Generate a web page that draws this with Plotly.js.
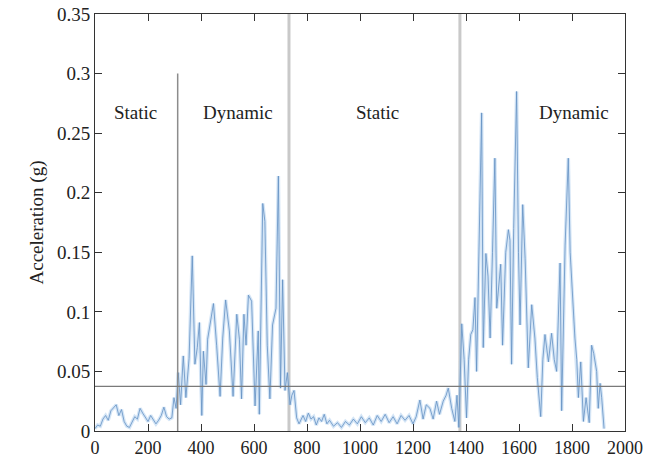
<!DOCTYPE html>
<html>
<head>
<meta charset="utf-8">
<script src="https://cdn.plot.ly/plotly-3.0.1.min.js"></script>
<style>html,body{margin:0;padding:0;background:#fff;}#chart{width:658px;height:458px;}</style>
</head>
<body>
<div id="chart"></div>
<script>
// Sample index (x) and acceleration in g (y)
const sampleX = [
  0,10,20,30,40,50,60,70,80,90,100,110,120,130,140,150,160,170,180,190,200,210,220,230,240,250,260,270,280,290,298,306,
  314,323,333,343,355,367,377,386,394,403,409,419,425,434,447,459,472,482,493,507,521,535,545,553,562,570,579,591,604,616,620,633,641,650,660,670,683,692,700,708,717,726,736,743,751,761,
  770,785,795,805,815,825,835,845,855,865,875,885,900,915,930,945,960,975,990,1005,1020,1035,1050,1065,1080,1095,1110,1125,1140,1155,1170,1185,1200,1212,1226,1238,1250,1264,1276,1289,1300,1314,1325,1333,1346,1358,1366,1373,
  1384,1393,1402,1410,1418,1426,1434,1440,1450,1459,1465,1475,1483,1491,1500,1509,1516,1524,1531,1538,1550,1560,1566,1572,1580,1591,1598,1604,1614,1623,1635,1648,1660,1669,1682,1690,1698,1711,1723,1733,1742,1755,1761,1774,1786,1793,1799,1811,1818,1824,1833,1843,1853,1865,1874,1882,1893,1899,1906,1912,1921
];
const accel = [
  0.002,0.005,0.004,0.010,0.013,0.009,0.017,0.020,0.022,0.013,0.018,0.008,0.004,0.003,0.008,0.012,0.010,0.019,0.015,0.011,0.008,0.013,0.010,0.006,0.009,0.013,0.020,0.012,0.010,0.011,0.028,0.019,
  0.049,0.022,0.063,0.028,0.061,0.147,0.056,0.070,0.091,0.013,0.067,0.039,0.077,0.089,0.107,0.072,0.029,0.078,0.110,0.084,0.029,0.098,0.077,0.027,0.098,0.072,0.114,0.109,0.021,0.084,0.014,0.191,0.176,0.072,0.027,0.089,0.103,0.214,0.036,0.127,0.034,0.049,0.022,0.030,0.034,0.011,
  0.006,0.013,0.008,0.015,0.010,0.012,0.005,0.011,0.008,0.014,0.006,0.009,0.004,0.007,0.003,0.008,0.005,0.010,0.006,0.012,0.007,0.011,0.005,0.013,0.008,0.014,0.007,0.012,0.006,0.013,0.009,0.013,0.006,0.012,0.026,0.010,0.022,0.019,0.010,0.025,0.014,0.025,0.030,0.036,0.019,0.008,0.030,0.003,
  0.090,0.060,0.011,0.060,0.081,0.085,0.112,0.050,0.150,0.267,0.070,0.149,0.130,0.078,0.150,0.229,0.103,0.120,0.140,0.072,0.150,0.169,0.160,0.056,0.170,0.285,0.150,0.089,0.190,0.145,0.053,0.106,0.078,0.045,0.012,0.060,0.081,0.058,0.082,0.060,0.050,0.141,0.017,0.156,0.229,0.150,0.123,0.078,0.060,0.028,0.058,0.008,0.028,0.007,0.072,0.065,0.050,0.019,0.040,0.028,0.002
];

// Reference markers
const spikeMarkerX = 312;
const spikeMarkerTop = 0.3;
const phaseBoundaries = [732, 1377];
const threshold = 0.0375;

// Phase labels
const phaseLabels = ["Static", "Dynamic", "Static", "Dynamic"];
const phaseLabelX = [151, 538, 1066, 1808];
const phaseLabelY = 0.267;

// Tick labels
const xTickVals = [0,200,400,600,800,1000,1200,1400,1600,1800,2000];
const yTickVals = [0,0.05,0.1,0.15,0.2,0.25,0.3,0.35];
const yTickText = ["0","0.05","0.1","0.15","0.2","0.25","0.3","0.35"];

const serif = "Liberation Serif, DejaVu Serif, serif";

const traces = [
  {x: sampleX, y: accel, type: "scatter", mode: "lines",
   line: {color: "rgba(160,198,235,0.45)", width: 3.5}, hoverinfo: "skip", showlegend: false},
  {x: sampleX, y: accel, type: "scatter", mode: "lines",
   line: {color: "rgba(100,145,195,0.8)", width: 1}, showlegend: false}
];

const shapes = [];
phaseBoundaries.forEach(b => shapes.push({
  type: "line", xref: "x", yref: "paper", x0: b, x1: b, y0: 0, y1: 1,
  line: {color: "rgba(195,195,195,0.9)", width: 3}, layer: "below"
}));
shapes.push({type: "line", xref: "x", yref: "y", x0: spikeMarkerX, x1: spikeMarkerX, y0: 0, y1: spikeMarkerTop,
  line: {color: "#8c8c8c", width: 1.5}});
shapes.push({type: "line", xref: "paper", yref: "y", x0: 0, x1: 1, y0: threshold, y1: threshold,
  line: {color: "#7a7a7a", width: 1.2}});

const annotations = phaseLabels.map((t, i) => ({
  x: phaseLabelX[i], y: phaseLabelY, xref: "x", yref: "y", text: t, showarrow: false,
  font: {family: serif, size: 19, color: "#222"}
}));

const axisCommon = {
  showline: true, linecolor: "#333", linewidth: 1, mirror: "ticks",
  ticks: "inside", ticklen: 7, tickcolor: "#333", tickwidth: 1,
  showgrid: false, zeroline: false,
  tickfont: {family: serif, size: 19, color: "#222"}
};

const layout = {
  width: 658, height: 458,
  margin: {l: 95, r: 33, t: 14, b: 27},
  paper_bgcolor: "#fff", plot_bgcolor: "#fff",
  xaxis: Object.assign({}, axisCommon, {range: [0, 2000], tickmode: "array", tickvals: xTickVals,
    tickfont: {family: serif, size: 18, color: "#222"}}),
  yaxis: Object.assign({}, axisCommon, {range: [0, 0.35], tickmode: "array", tickvals: yTickVals, ticktext: yTickText,
    title: {text: "Acceleration (g)", font: {family: serif, size: 19, color: "#222"}, standoff: 8}}),
  shapes: shapes,
  annotations: annotations,
  showlegend: false
};

Plotly.newPlot("chart", traces, layout, {staticPlot: true, displayModeBar: false});
</script>
</body>
</html>
